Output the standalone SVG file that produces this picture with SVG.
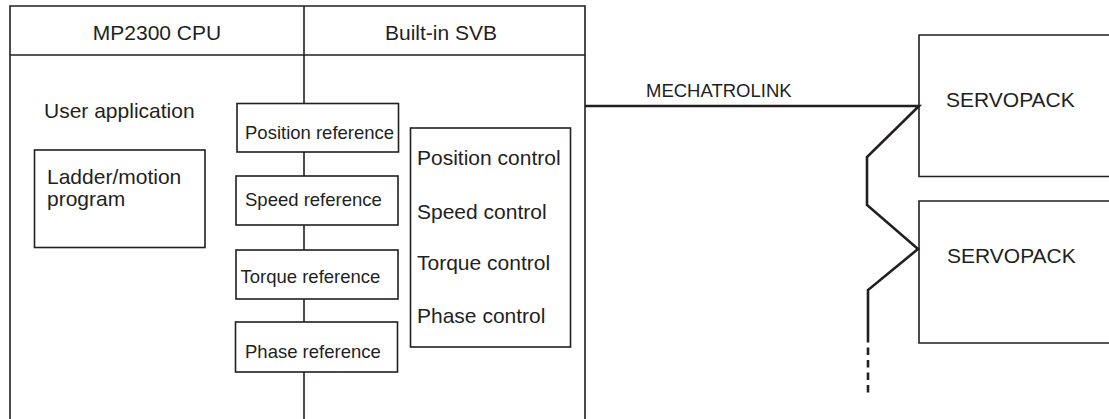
<svg xmlns="http://www.w3.org/2000/svg" width="1109" height="419" viewBox="0 0 1109 419">
<style>
.box{fill:none;stroke:#231f20;stroke-width:1.6}
.ln{fill:none;stroke:#231f20;stroke-width:1.6}
.bus{fill:none;stroke:#231f20;stroke-width:2.6;stroke-linejoin:miter}
.t{font-family:"Liberation Sans",Arial,sans-serif;fill:#231f20}
.big{font-size:21px}
.med{font-size:18.5px}
</style>
<rect width="1109" height="419" fill="#ffffff"/>
<g id="controller">
<path class="box" d="M10,419 V6 H585 V419 M10,55 H585 M304,6 V104"/>
<text class="t big" x="157" y="40" text-anchor="middle">MP2300 CPU</text>
<text class="t big" x="441" y="40" text-anchor="middle">Built-in SVB</text>
<text class="t big" x="44" y="118">User application</text>
</g>
<g id="ladder">
<rect class="box" x="34.5" y="150" width="170.5" height="97.5"/>
<text class="t big" x="47" y="184">Ladder/motion</text>
<text class="t big" x="47" y="206">program</text>
</g>
<g id="position-reference">
<rect class="box" x="237" y="103.5" width="161.5" height="48.5"/>
<text class="t med" x="245" y="139">Position reference</text>
</g>
<g id="speed-reference">
<rect class="box" x="236" y="176" width="162" height="49"/>
<text class="t med" x="245" y="206">Speed reference</text>
</g>
<g id="torque-reference">
<rect class="box" x="236" y="250" width="162" height="49"/>
<text class="t med" x="240.5" y="283">Torque reference</text>
</g>
<g id="phase-reference">
<rect class="box" x="235.5" y="322" width="162" height="50"/>
<text class="t med" x="245" y="358">Phase reference</text>
</g>
<g id="control">
<rect class="box" x="410.5" y="128" width="160" height="219"/>
<text class="t big" x="417" y="165">Position control</text>
<text class="t big" x="417" y="219">Speed control</text>
<text class="t big" x="417" y="270">Torque control</text>
<text class="t big" x="417" y="323">Phase control</text>
</g>
<g id="servopack-1">
<path class="box" d="M1110,35 H919 V176.5 H1110"/>
<text class="t big" x="946" y="107">SERVOPACK</text>
</g>
<g id="servopack-2">
<path class="box" d="M1110,201 H919 V343 H1110"/>
<text class="t big" x="947" y="263">SERVOPACK</text>
</g>
<g id="connectors">
<path class="ln" d="M304,152 V176 M304,225 V250 M304,299 V322 M304,372 V419"/>
<path class="bus" d="M585,106 H919 L867,157 V205 L918,249 L868,290 V335"/>
<path class="bus" d="M868,335 V397" stroke-dasharray="7.5,5"/>
<text class="t med" x="646" y="97">MECHATROLINK</text>
</g>
</svg>
